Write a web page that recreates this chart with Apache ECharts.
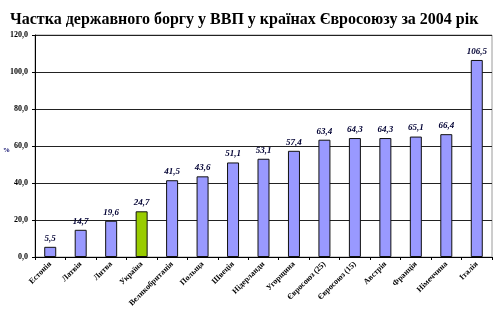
<!DOCTYPE html>
<html>
<head>
<meta charset="utf-8">
<script src="https://cdn.jsdelivr.net/npm/echarts@6/dist/echarts.min.js"></script>
<style>
  html, body { margin: 0; padding: 0; background: #fff; }
  #chart { width: 504px; height: 322px; }
</style>
</head>
<body>
<div id="chart"></div>
<script>
// Public debt as a share of GDP, 2004
const countries = ['Естонія', 'Латвія', 'Литва', 'Україна', 'Великобританія', 'Польща', 'Швеція',
  'Нідерланди', 'Угорщина', 'Євросоюз (25)', 'Євросоюз (15)', 'Австрія', 'Франція', 'Німеччина', 'Італія'];
const debtShare = [5.5, 14.7, 19.6, 24.7, 41.5, 43.6, 51.1, 53.1, 57.4, 63.4, 64.3, 64.3, 65.1, 66.4, 106.5];
const highlighted = 'Україна';

const serif = '"Liberation Serif", "Times New Roman", serif';
const fmt = v => v.toFixed(1).replace('.', ',');

const chart = echarts.init(document.getElementById('chart'), null, { renderer: 'canvas' });
chart.setOption({
  animation: false,
  backgroundColor: '#fff',
  title: {
    text: 'Частка державного боргу у ВВП у країнах Євросоюзу за 2004 рік',
    left: 5, top: 7,
    textStyle: { fontFamily: serif, fontWeight: 'bold', fontSize: 16, color: '#000' }
  },
  graphic: [{
    type: 'text', left: 3, top: 147,
    style: { text: '%', font: 'bold 7px ' + serif, fill: '#000066' }
  }],
  grid: { left: 35, right: 12, top: 35, bottom: 65, show: true, borderColor: '#9a9a9a', borderWidth: 1 },
  xAxis: {
    type: 'category',
    data: countries,
    axisLine: { lineStyle: { color: '#000', width: 1 } },
    axisTick: { show: true, length: 3, lineStyle: { color: '#000' } },
    axisLabel: {
      rotate: 45, interval: 0, margin: 6,
      fontFamily: serif, fontWeight: 'bold', fontSize: 8, color: '#000'
    }
  },
  yAxis: {
    type: 'value', min: 0, max: 120, interval: 20,
    axisLine: { show: true, lineStyle: { color: '#000', width: 1 } },
    axisTick: { show: true, length: 3, lineStyle: { color: '#000' } },
    axisLabel: {
      formatter: v => fmt(v), margin: 7,
      fontFamily: serif, fontWeight: 'bold', fontSize: 8, color: '#000'
    },
    splitLine: { lineStyle: { color: '#222', width: 1 } }
  },
  series: [{
    type: 'bar',
    barWidth: 12,
    data: debtShare.map((v, i) => ({
      value: v,
      itemStyle: { color: countries[i] === highlighted ? '#99CC00' : '#9999FF' }
    })),
    itemStyle: { borderColor: '#111', borderWidth: 1 },
    label: {
      show: true, position: 'top', distance: 4,
      formatter: p => fmt(p.value),
      fontFamily: serif, fontWeight: 'bold', fontStyle: 'italic', fontSize: 9, color: '#000033'
    }
  }]
});
</script>
</body>
</html>
